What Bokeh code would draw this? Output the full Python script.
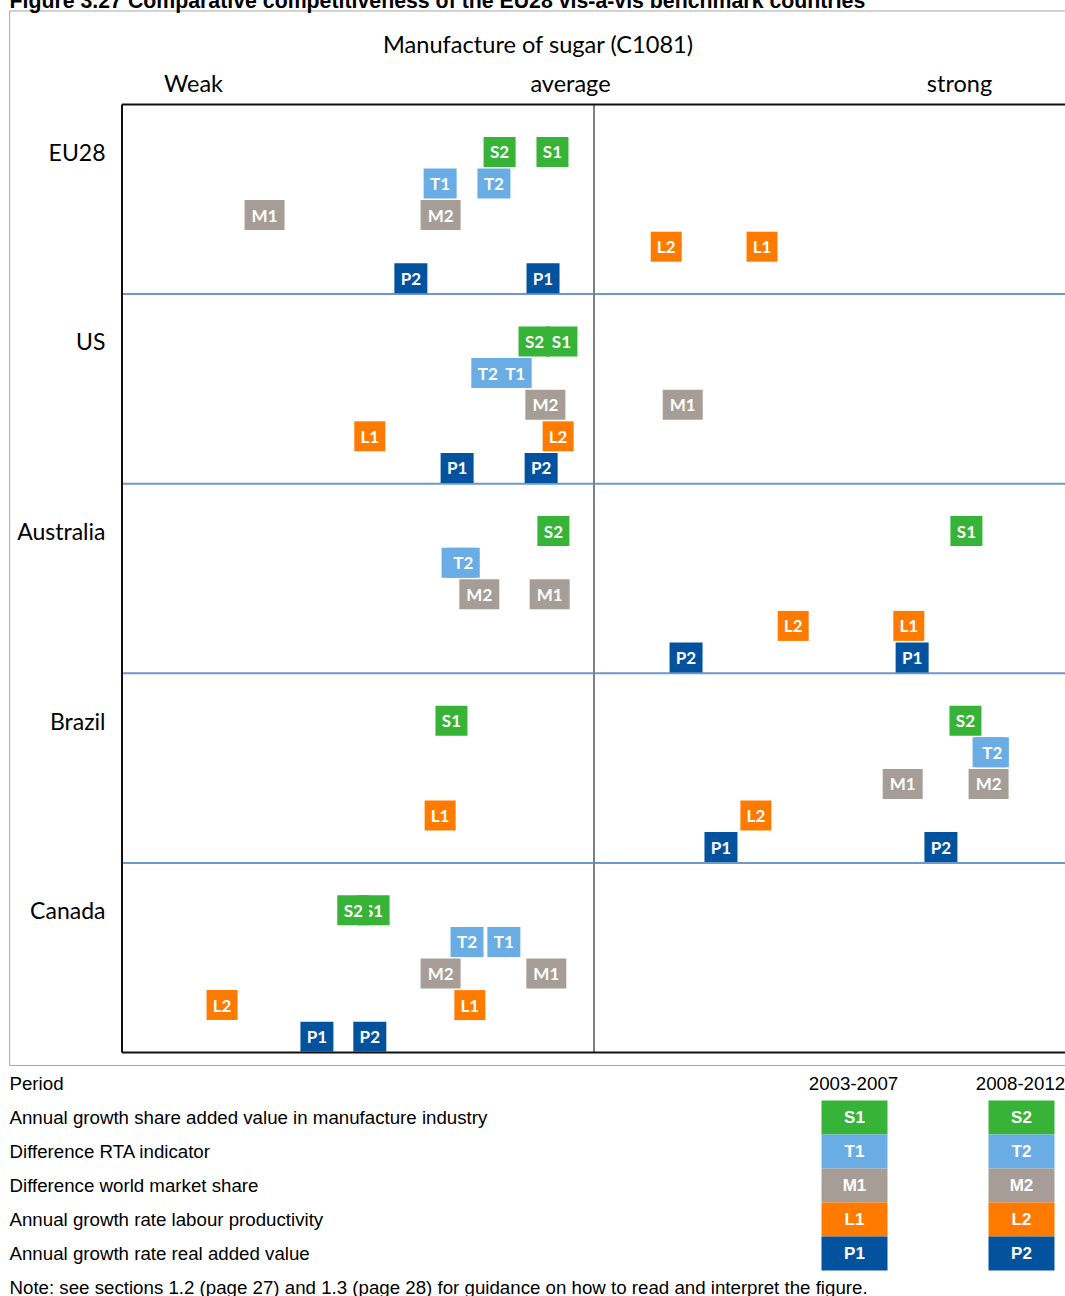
from bokeh.plotting import figure
from bokeh.models import Range1d, ColumnDataSource
from bokeh.layouts import column
from bokeh.core.properties import value
from bokeh.embed import file_html
from bokeh.resources import INLINE

# ---------------- data ----------------
countries = ["EU28", "US", "Australia", "Brazil", "Canada"]
codes = ["S", "T", "M", "L", "P"]
indicator_names = [
    "Annual growth share added value in manufacture industry",
    "Difference RTA indicator",
    "Difference world market share",
    "Annual growth rate labour productivity",
    "Annual growth rate real added value",
]
periods = ["2003-2007", "2008-2012"]

# position on the weak (-1) ... average (0) ... strong (+1) scale, per country
S1 = [-0.088, -0.069, 0.789, -0.302, -0.467]
S2 = [-0.200, -0.126, -0.086, 0.787, -0.510]
T1 = [-0.326, -0.167, -0.288, 0.837, -0.191]
T2 = [-0.212, -0.225, -0.277, 0.844, -0.269]
M1 = [-0.698, 0.188, -0.094, 0.654, -0.101]
M2 = [-0.325, -0.103, -0.243, 0.836, -0.325]
L1 = [0.356, -0.475, 0.667, -0.326, -0.263]
L2 = [0.153, -0.076, 0.422, 0.343, -0.788]
P1 = [-0.108, -0.290, 0.674, 0.269, -0.587]
P2 = [-0.388, -0.112, 0.195, 0.735, -0.475]

values_p1 = {"S": S1, "T": T1, "M": M1, "L": L1, "P": P1}
values_p2 = {"S": S2, "T": T2, "M": M2, "L": L2, "P": P2}

scale_labels = ["Weak", "average", "strong"]
scale_label_pos = [-0.8485, -0.0498, 0.7744]

colors = {"S": "#37b337", "T": "#6aade4", "M": "#a69d96", "L": "#ff7b00", "P": "#03529e"}
box_w = {"S": 32, "T": 33, "M": 40, "L": 31, "P": 33}

FONT_C = value("Lato")
FONT_A = value("Liberation Sans")

# ---------------- main chart ----------------
p1 = figure(width=1057, height=1078,
            x_range=Range1d(-1.24047, 0.99894), y_range=Range1d(30.6329, -3.4810),
            output_backend="svg", toolbar_location=None,
            x_axis_location=None, y_axis_location=None, min_border=0)
p1.grid.visible = False
p1.outline_line_color = None
p1.background_fill_color = "white"
p1.border_fill_color = "white"

# outer frame
p1.quad(left=[-1.2380], right=[1.10], top=[-2.96], bottom=[30.41],
        fill_color=None, line_color="#a6a6a6", line_width=1)

# separators between countries
p1.segment(x0=[-1.0] * 4, x1=[1.1] * 4, y0=[6, 12, 18, 24], y1=[6, 12, 18, 24],
           line_color="#6f97c9", line_width=2)
# divider (average)
p1.segment(x0=[0.0], x1=[0.0], y0=[0], y1=[30], line_color="#7f7f7f", line_width=2)
# plot area border
p1.segment(x0=[-1.0, -1.0, -1.0], x1=[1.1, 1.1, -1.0], y0=[0, 30, 0], y1=[0, 30, 30],
           line_color="#111111", line_width=2)


def boxes(vals, suffix):
    xs, ys, ws, cs, ts = [], [], [], [], []
    for ri, code in enumerate(codes):
        for ci, c in enumerate(countries):
            xs.append(vals[code][ci])
            ys.append(6 * ci + 1.5 + ri)
            ws.append(box_w[code])
            cs.append(colors[code])
            ts.append(code + suffix)
    return ColumnDataSource(dict(x=xs, y=ys, w=ws, c=cs, t=ts))


for vals, suffix in ((values_p1, "1"), (values_p2, "2")):
    src = boxes(vals, suffix)
    p1.rect(x="x", y="y", width="w", height=30, width_units="screen", height_units="screen",
            fill_color="c", line_color=None, source=src)
    p1.text(x="x", y="y", text="t", text_align="center", text_baseline="middle",
            text_font=FONT_C, text_font_style="bold", text_font_size="17px",
            text_color="white", source=src)

# country labels
p1.text(x=[-1.035] * 5, y=[6 * i + 1.5 for i in range(5)], text=countries,
        text_align="right", text_baseline="middle", text_font=FONT_C,
        text_font_size="23px", text_color="black")

# scale labels
p1.text(x=scale_label_pos, y=[-0.6646] * 3, text=scale_labels,
        text_align="center", text_baseline="middle", text_font=FONT_C,
        text_font_size="23.5px", text_color="black")

# chart title
p1.text(x=[-0.1176], y=[-1.899], text=["Manufacture of sugar (C1081)"],
        text_align="center", text_baseline="middle", text_font=FONT_C,
        text_font_size="23.6px", text_color="black")

# figure caption (cut at the top of the page)
p1.text(x=[-1.2383], y=[-3.27],
        text=["Figure 3.27 Comparative competitiveness of the EU28 vis-\u00e0-vis benchmark countries"],
        text_align="left", text_baseline="alphabetic", text_font=FONT_A,
        text_font_style="bold", text_font_size="21.3px", text_color="black")

# ---------------- legend ----------------
p2 = figure(width=1057, height=224,
            x_range=Range1d(0, 1057), y_range=Range1d(5.2647, -1.3235),
            output_backend="svg", toolbar_location=None,
            x_axis_location=None, y_axis_location=None, min_border=0)
p2.grid.visible = False
p2.outline_line_color = None

p2.text(x=[1], y=[-1], text=["Period"], text_align="left", text_baseline="middle",
        text_font=FONT_A, text_font_size="18.7px", text_color="black")
p2.text(x=[845, 1012], y=[-1, -1], text=periods, text_align="center", text_baseline="middle",
        text_font=FONT_A, text_font_size="18.7px", text_color="black")
p2.text(x=[1] * 5, y=list(range(5)), text=indicator_names, text_align="left",
        text_baseline="middle", text_font=FONT_A, text_font_size="18.7px", text_color="black")

for xc, suffix in ((846, "1"), (1013, "2")):
    src = ColumnDataSource(dict(x=[xc] * 5, y=list(range(5)),
                                c=[colors[k] for k in codes], t=[k + suffix for k in codes]))
    p2.rect(x="x", y="y", width=66, height=1, width_units="screen",
            fill_color="c", line_color=None, source=src)
    p2.text(x="x", y="y", text="t", text_align="center", text_baseline="middle",
            text_font=FONT_A, text_font_style="bold", text_font_size="17px",
            text_color="white", source=src)

p2.text(x=[1], y=[5],
        text=["Note: see sections 1.2 (page 27) and 1.3 (page 28) for guidance on how to read and interpret the figure."],
        text_align="left", text_baseline="middle", text_font=FONT_A,
        text_font_size="18.7px", text_color="black")

layout = column(p1, p2, styles={"margin-top": "-6px", "margin-left": "8px"})

open("out.html", "w").write(file_html(layout, INLINE))
